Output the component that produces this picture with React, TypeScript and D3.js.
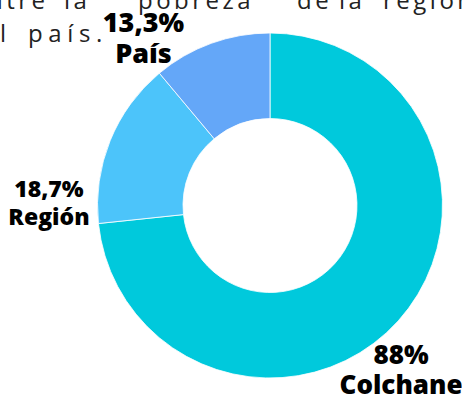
import React from "react";
import * as d3 from "d3";

const labels = ["Colchane", "Región", "País"];
const values = [88, 18.7, 13.3];
const valueText = ["88%", "18,7%", "13,3%"];
const colors = ["#00C9DC", "#4CC4FA", "#64A7F8"];

// body copy cut off above the chart (word, left x)
const copyLine1: [string, number][] = [
  ["ntre", -12], ["la", 64], ["pobreza", 138], ["de", 297], ["la", 339], ["región", 383],
];
const copyLine2: [string, number][] = [["l", 0], ["país.", 28]];

const W = 462;
const H = 402;
const CX = 270;
const CY = 205.5;
const R_OUT = 172.5;
const R_IN = 87;

// label layout: centre x, baseline of value line, baseline of name line, font size
const labelLayout: Record<string, { x: number; y1: number; y2: number; size: number }> = {
  Colchane: { x: 401, y1: 364, y2: 394, size: 26 },
  "Región": { x: 49, y1: 197, y2: 225, size: 23 },
  "País": { x: 143.5, y1: 32, y2: 63, size: 27 },
};

type Slice = { label: string; value: number; text: string; color: string };

export default function App() {
  const data: Slice[] = labels.map((l, i) => ({
    label: l,
    value: values[i],
    text: valueText[i],
    color: colors[i],
  }));

  const pie = d3.pie<Slice>().sort(null).value((d) => d.value);
  const arcs = pie(data);
  const arc = d3.arc<d3.PieArcDatum<Slice>>().innerRadius(R_IN).outerRadius(R_OUT);

  const copyStyle = { fontFamily: "'Open Sans', sans-serif", fontWeight: 400, fontSize: "24px" };

  return (
    <svg
      width={W}
      height={H}
      style={{ position: "absolute", left: 0, top: 0, background: "#fff" }}
    >
      {/* body copy behind the chart, clipped by the frame */}
      <g fill="#222">
        <text y={9} style={{ ...copyStyle, letterSpacing: "3.5px" }}>
          {copyLine1.map(([w, x]) => (
            <tspan key={w + x} x={x}>{w}</tspan>
          ))}
        </text>
        <text y={41.5} style={{ ...copyStyle, letterSpacing: "5.6px" }}>
          {copyLine2.map(([w, x]) => (
            <tspan key={w + x} x={x}>{w}</tspan>
          ))}
        </text>
      </g>

      <g transform={`translate(${CX},${CY})`}>
        {arcs.map((a) => (
          <path key={a.data.label} d={arc(a) || ""} fill={a.data.color} stroke="#fff" strokeWidth={0.8} />
        ))}
      </g>

      <g fill="#000" textAnchor="middle" style={{ fontFamily: "'Open Sans', sans-serif", fontWeight: 800 }}>
        {data.map((d) => {
          const l = labelLayout[d.label];
          return (
            <g key={d.label} style={{ fontSize: `${l.size}px` }}>
              <text x={l.x} y={l.y1}>{d.text}</text>
              <text x={l.x} y={l.y2}>{d.label}</text>
            </g>
          );
        })}
      </g>
    </svg>
  );
}
